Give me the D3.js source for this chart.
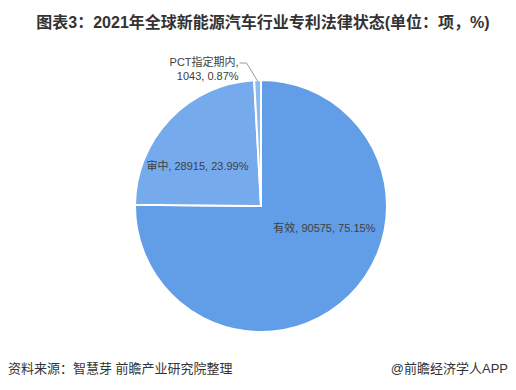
<!DOCTYPE html>
<html>
<head>
<meta charset="utf-8">
<script src="https://cdn.jsdelivr.net/npm/d3@7"></script>
<style>
  body { margin: 0; background: #fff; }
  text { font-family: "Liberation Sans", "Noto Sans CJK SC", sans-serif; }
</style>
</head>
<body>
<div id="chart"></div>
<script>
const width = 516;
const height = 390;

// data
const categories = ["有效", "审中", "PCT指定期内"];
const counts = [90575, 28915, 1043];
const shares = ["75.15%", "23.99%", "0.87%"];
const colors = ["#629de8", "#75aaec", "#8cb9f0"];

const cx = 261;
const cy = 206;
const radius = 126;

const svg = d3.select("#chart")
  .append("svg")
  .attr("width", width)
  .attr("height", height);

// title
svg.append("text")
  .attr("x", width / 2 + 5)
  .attr("y", 28)
  .attr("text-anchor", "middle")
  .attr("font-size", 16)
  .attr("font-weight", "bold")
  .attr("fill", "#333")
  .text("图表3：2021年全球新能源汽车行业专利法律状态(单位：项，%)");

const data = categories.map((c, i) => ({ name: c, value: counts[i], share: shares[i], color: colors[i] }));

const pie = d3.pie()
  .value(d => d.value)
  .sort(null);

const arc = d3.arc()
  .innerRadius(0)
  .outerRadius(radius);

const arcs = pie(data);

const g = svg.append("g")
  .attr("transform", `translate(${cx}, ${cy})`);

g.selectAll("path")
  .data(arcs)
  .join("path")
  .attr("d", arc)
  .attr("fill", d => d.data.color)
  .attr("stroke", "#fff")
  .attr("stroke-width", 2);

// labels inside big slices
const labelArc = d3.arc().innerRadius(radius * 0.5).outerRadius(radius * 0.5);
const nudge = [[19, -19], [-18, 8]];

g.selectAll("text.inlabel")
  .data(arcs.slice(0, 2))
  .join("text")
  .attr("class", "inlabel")
  .attr("transform", (d, i) => {
    const [x, y] = labelArc.centroid(d);
    return `translate(${x + nudge[i][0]}, ${y + nudge[i][1]})`;
  })
  .attr("text-anchor", "middle")
  .attr("font-size", 11)
  .attr("fill", "#404040")
  .text(d => `${d.data.name}, ${d.data.value}, ${d.data.share}`);

// leader line for the small slice
const small = arcs[2];
const mid = (small.startAngle + small.endAngle) / 2;
const p0 = [Math.sin(mid) * (radius - 1), -Math.cos(mid) * (radius - 1)];
const p1 = [p0[0] - 11, p0[1] - 18];
const p2 = [p1[0] - 7, p1[1]];

g.append("polyline")
  .attr("points", [p0, p1, p2].map(p => p.join(",")).join(" "))
  .attr("fill", "none")
  .attr("stroke", "#999")
  .attr("stroke-width", 1);

g.append("text")
  .attr("x", p2[0] - 1)
  .attr("y", p2[1] + 3)
  .attr("text-anchor", "end")
  .attr("font-size", 11)
  .attr("fill", "#404040")
  .text(small.data.name + ",");

g.append("text")
  .attr("x", p2[0] - 1)
  .attr("y", p2[1] + 17)
  .attr("text-anchor", "end")
  .attr("font-size", 11)
  .attr("fill", "#404040")
  .text(`${small.data.value}, ${small.data.share}`);

// footer
svg.append("text")
  .attr("x", 8)
  .attr("y", 373)
  .attr("font-size", 13)
  .attr("fill", "#333")
  .text("资料来源：智慧芽 前瞻产业研究院整理");

svg.append("text")
  .attr("x", width - 8)
  .attr("y", 373)
  .attr("text-anchor", "end")
  .attr("font-size", 13)
  .attr("fill", "#333")
  .text("@前瞻经济学人APP");
</script>
</body>
</html>
